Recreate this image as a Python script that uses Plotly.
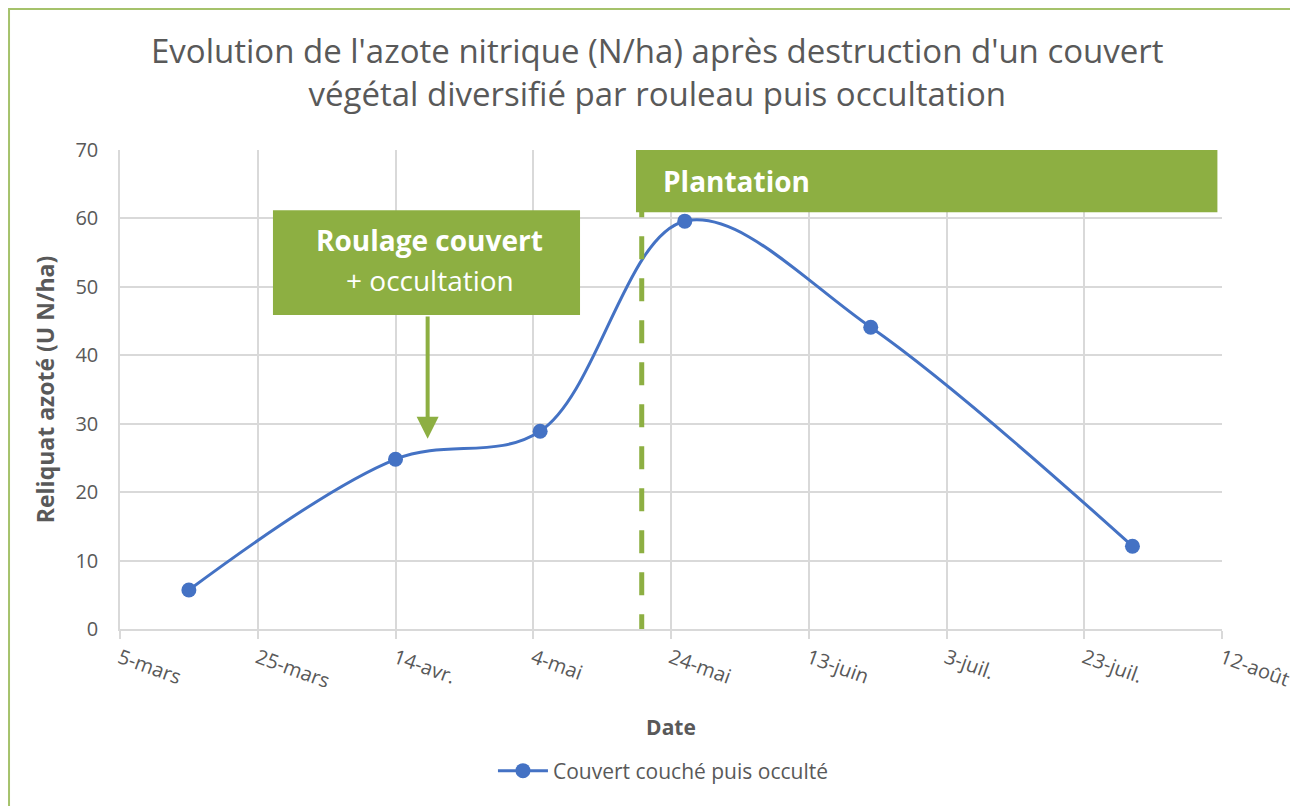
import plotly.graph_objects as go

# ---- data ----
dates = ["2021-03-15", "2021-04-14", "2021-05-05", "2021-05-26", "2021-06-22", "2021-07-30"]
reliquat = [5.7, 24.8, 28.9, 59.6, 44.1, 12.1]
series_name = "Couvert couché puis occulté"

tick_dates = ["2021-03-05", "2021-03-25", "2021-04-14", "2021-05-04", "2021-05-24",
              "2021-06-13", "2021-07-03", "2021-07-23", "2021-08-12"]
tick_labels = ["5-mars", "25-mars", "14-avr.", "4-mai", "24-mai",
               "13-juin", "3-juil.", "23-juil.", "12-août"]

plantation_date = "2021-05-19T18:00"
roulage_arrow_date = "2021-04-18T16:00"

title_text = ("Evolution de l'azote nitrique (N/ha) après destruction d'un couvert<br>"
              "végétal diversifié par rouleau puis occultation")

GREEN = "#8DAF42"
BLUE = "#4472C4"
GRAY = "#595959"
GRID = "#D9D9D9"
FONT = "Open Sans"

fig = go.Figure()
fig.add_trace(go.Scatter(
    x=dates, y=reliquat, name=series_name, mode="lines+markers",
    line=dict(color=BLUE, width=3, shape="spline", smoothing=1.0),
    marker=dict(color=BLUE, size=15),
))

shapes = [
    # dashed plantation line
    dict(type="line", xref="x", yref="y", x0=plantation_date, x1=plantation_date,
         y0=-1.2, y1=66.5, line=dict(color=GREEN, width=5, dash="23px,19px"), layer="above"),
    # plantation box
    dict(type="rect", xref="x", yref="y", x0="2021-05-18T22:00", x1="2021-08-11T08:00",
         y0=60.9, y1=70, fillcolor=GREEN, line=dict(width=0), layer="above"),
    # roulage box
    dict(type="rect", xref="x", yref="y", x0="2021-03-27T05:00", x1="2021-05-10T19:00",
         y0=45.9, y1=61.2, fillcolor=GREEN, line=dict(width=0), layer="above"),
    # outer chart border (left & top)
    dict(type="line", xref="paper", yref="paper", x0=-0.1007, x1=-0.1007, y0=-0.40, y1=1.31,
         line=dict(color="#A5C26B", width=2)),
    dict(type="line", xref="paper", yref="paper", x0=-0.1007, x1=1.08, y0=1.2944, y1=1.2944,
         line=dict(color="#A5C26B", width=2)),
]

annotations = [
    dict(xref="paper", yref="paper", x=0.4882, y=1.1628, text=title_text, showarrow=False,
         xanchor="center", yanchor="middle", align="center",
         font=dict(family=FONT, size=33, color=GRAY)),
    dict(xref="x", yref="y", x="2021-04-19", y=56.9, text="<b>Roulage couvert</b>",
         showarrow=False, font=dict(family=FONT, size=28, color="white")),
    dict(xref="x", yref="y", x="2021-04-19", y=51.0, text="+ occultation",
         showarrow=False, font=dict(family=FONT, size=28, color="white")),
    dict(xref="x", yref="y", x="2021-05-22T12:00", y=65.5, text="<b>Plantation</b>",
         xanchor="left", showarrow=False, font=dict(family=FONT, size=28, color="white")),
    dict(xref="x", yref="y", x=roulage_arrow_date, y=27.8, ax=roulage_arrow_date, ay=45.9,
         axref="x", ayref="y", text="", showarrow=True, arrowhead=2, arrowsize=1.1,
         arrowwidth=4, arrowcolor=GREEN),
]

fig.update_layout(
    width=1290, height=798,
    margin=dict(l=112, r=76, t=142, b=177),
    paper_bgcolor="white", plot_bgcolor="white",
    font=dict(family=FONT, color=GRAY),
    xaxis=dict(
        type="date", range=["2021-03-05", "2021-08-12"],
        tickvals=tick_dates, ticktext=tick_labels, tickangle=20,
        tickfont=dict(family=FONT, size=20, color=GRAY),
        showgrid=True, gridcolor=GRID, gridwidth=1.5,
        showline=True, linecolor=GRID, linewidth=1.5,
        ticks="outside", ticklen=8, tickcolor=GRID, tickwidth=1.5,
        zeroline=False, automargin=False,
        title=dict(text="<b>Date</b>", font=dict(family=FONT, size=21, color=GRAY), standoff=27),
    ),
    yaxis=dict(
        range=[0, 70], dtick=10,
        tickfont=dict(family=FONT, size=20, color=GRAY),
        showgrid=True, gridcolor=GRID, gridwidth=1.5,
        showline=True, linecolor=GRID, linewidth=1.5,
        zeroline=False, ticklabelstandoff=16, automargin=False,
        title=dict(text="<b>Reliquat azoté (U N/ha)</b>", font=dict(family=FONT, size=23, color=GRAY), standoff=14),
    ),
    showlegend=True,
    legend=dict(orientation="h", x=0.4927, xanchor="center", y=-0.2965, yanchor="middle",
                font=dict(family=FONT, size=21, color=GRAY), itemwidth=50),
    shapes=shapes,
    annotations=annotations,
)

fig.write_html("out.html")
